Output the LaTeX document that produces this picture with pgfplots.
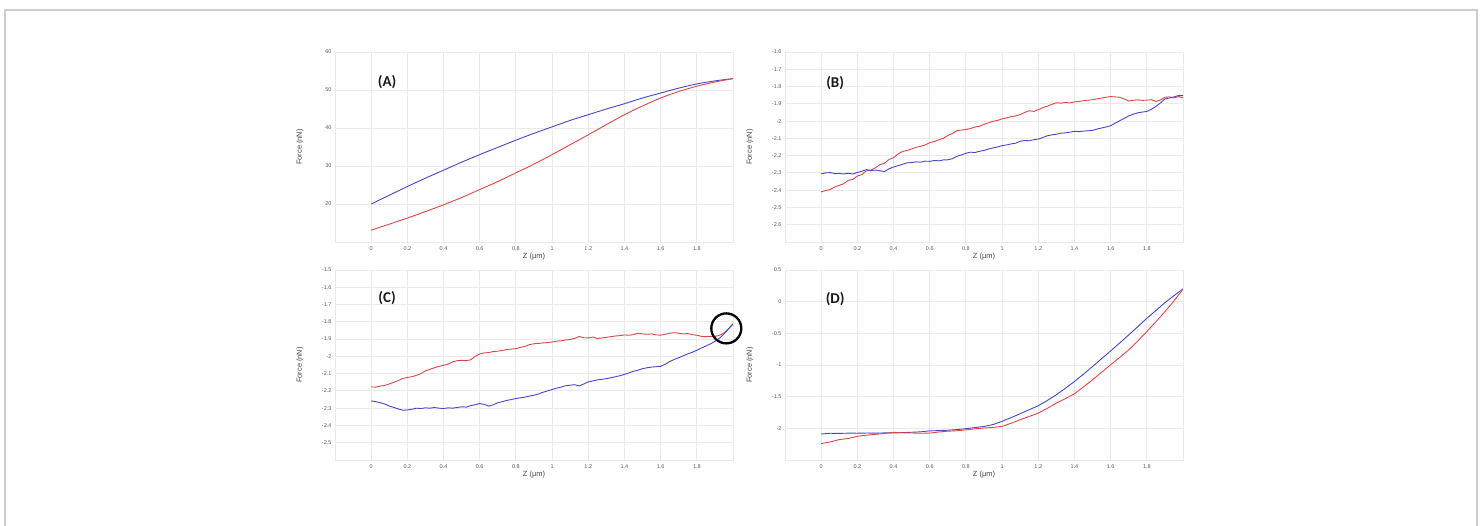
\documentclass[border=0pt]{standalone}
\usepackage{pgfplots}
\pgfplotsset{compat=1.18}
\usepackage{fontspec}
\setmainfont{Liberation Sans}
\newfontfamily\calib{Carlito}
\definecolor{gridc}{RGB}{234,234,234}
\definecolor{tickc}{RGB}{90,90,90}
\definecolor{labc}{RGB}{70,70,70}
\definecolor{cblue}{RGB}{70,70,205}
\definecolor{cred}{RGB}{220,70,70}
\definecolor{framec}{RGB}{204,204,204}
\tikzset{plabel/.style={font=\calib\bfseries\fontsize{15}{16}\selectfont, text=black!90}}
\pgfplotsset{
  panel/.style={
    scale only axis, width=398pt, height=190pt, anchor=south west,
    xmin=-0.2, xmax=2.0,
    xtick={-0.2,0,0.2,0.4,0.6,0.8,1,1.2,1.4,1.6,1.8,2},
    xticklabels={,0,0.2,0.4,0.6,0.8,1,1.2,1.4,1.6,1.8,},
    grid=major, major grid style={gridc, line width=0.9pt},
    axis line style={gridc, line width=0.9pt},
    major tick length=0pt,
    tick label style={font=\fontsize{5.5}{6}\selectfont, text=tickc},
    xticklabel style={yshift=-1pt},
    xlabel={Z (µm)}, ylabel={Force (nN)},
    every axis x label/.style={at={(axis description cs:0.5,-0.079)}, anchor=center, font=\fontsize{7.5}{8}\selectfont, text=labc},
    every axis y label/.style={at={(axis description cs:-0.088,0.5)}, anchor=center, rotate=90, font=\fontsize{7.5}{8}\selectfont, text=labc},
    every axis plot/.append style={line width=0.9pt},
  },
}
\begin{document}
\begin{tikzpicture}[x=1pt,y=1pt]
\useasboundingbox (0,0) rectangle (1483,525);
\draw[framec, line width=2pt] (5,-20) rectangle (1477,515);

% ---------------- (A)
\begin{axis}[panel, at={(335pt,283pt)}, ymin=10, ymax=60,
  ytick={10,20,30,40,50,60}, yticklabels={,20,30,40,50,60}]
\addplot[cblue, smooth] coordinates {
(0,20.0)(0.1,22.3)(0.2,24.6)(0.3,26.8)(0.4,28.9)(0.5,31.0)(0.6,33.0)(0.7,34.9)(0.8,36.8)(0.9,38.6)(1.0,40.3)(1.1,42.0)(1.2,43.5)(1.3,45.0)(1.4,46.4)(1.5,47.9)(1.6,49.2)(1.7,50.5)(1.8,51.6)(1.9,52.4)(2.0,53.0)};
\addplot[cred, smooth] coordinates {
(0,13.1)(0.1,14.7)(0.2,16.3)(0.3,18.0)(0.4,19.8)(0.5,21.7)(0.6,23.8)(0.7,25.9)(0.8,28.2)(0.9,30.5)(1.0,33.0)(1.1,35.6)(1.2,38.2)(1.3,40.9)(1.4,43.5)(1.5,45.8)(1.6,47.9)(1.7,49.6)(1.8,51.0)(1.9,52.1)(2.0,53.0)};
\node[plabel] at (rel axis cs:0.131,0.842) {(A)};
\end{axis}

% ---------------- (B)
\begin{axis}[panel, at={(785pt,283pt)}, ymin=-2.7, ymax=-1.6,
  ytick={-2.7,-2.6,-2.5,-2.4,-2.3,-2.2,-2.1,-2,-1.9,-1.8,-1.7,-1.6},
  yticklabels={,-2.6,-2.5,-2.4,-2.3,-2.2,-2.1,-2,-1.9,-1.8,-1.7,-1.6}]
\addplot[cred] coordinates {
(0,-2.410)(0.025,-2.402)(0.05,-2.396)(0.075,-2.381)(0.1,-2.372)(0.125,-2.362)(0.15,-2.343)(0.175,-2.338)(0.2,-2.318)(0.225,-2.309)
(0.25,-2.288)(0.275,-2.284)(0.3,-2.270)(0.325,-2.252)(0.35,-2.244)(0.375,-2.222)(0.4,-2.212)(0.425,-2.190)(0.45,-2.176)(0.475,-2.170)
(0.5,-2.161)(0.525,-2.152)(0.55,-2.146)(0.575,-2.138)(0.6,-2.125)(0.625,-2.118)(0.65,-2.108)(0.675,-2.100)(0.7,-2.083)(0.725,-2.072)
(0.75,-2.056)(0.775,-2.052)(0.8,-2.049)(0.825,-2.043)(0.85,-2.034)(0.875,-2.030)(0.9,-2.019)(0.925,-2.010)(0.95,-2.001)(0.975,-1.996)
(1.0,-1.987)(1.025,-1.982)(1.05,-1.974)(1.075,-1.970)(1.1,-1.962)(1.125,-1.950)(1.15,-1.940)(1.175,-1.944)(1.2,-1.934)(1.225,-1.922)
(1.25,-1.914)(1.275,-1.903)(1.3,-1.894)(1.325,-1.896)(1.35,-1.892)(1.375,-1.895)(1.4,-1.889)(1.425,-1.886)(1.45,-1.882)(1.475,-1.879)
(1.5,-1.876)(1.525,-1.871)(1.55,-1.867)(1.575,-1.862)(1.6,-1.858)(1.625,-1.860)(1.65,-1.862)(1.675,-1.872)(1.7,-1.884)(1.725,-1.880)
(1.75,-1.877)(1.775,-1.880)(1.8,-1.879)(1.825,-1.876)(1.85,-1.886)(1.875,-1.878)(1.9,-1.862)(1.925,-1.860)(1.95,-1.866)(1.975,-1.858)(2.0,-1.866)};
\addplot[cblue] coordinates {
(0,-2.305)(0.025,-2.300)(0.05,-2.298)(0.075,-2.304)(0.1,-2.303)(0.125,-2.306)(0.15,-2.302)(0.175,-2.306)(0.2,-2.298)(0.225,-2.290)
(0.25,-2.281)(0.275,-2.286)(0.3,-2.284)(0.325,-2.288)(0.35,-2.292)(0.375,-2.276)(0.4,-2.266)(0.425,-2.258)(0.45,-2.250)(0.475,-2.242)
(0.5,-2.240)(0.525,-2.236)(0.55,-2.238)(0.575,-2.232)(0.6,-2.233)(0.625,-2.228)(0.65,-2.230)(0.675,-2.225)(0.7,-2.224)(0.725,-2.218)
(0.75,-2.204)(0.775,-2.196)(0.8,-2.186)(0.825,-2.180)(0.85,-2.182)(0.875,-2.175)(0.9,-2.170)(0.925,-2.162)(0.95,-2.155)(0.975,-2.150)
(1.0,-2.142)(1.025,-2.138)(1.05,-2.132)(1.075,-2.128)(1.1,-2.117)(1.125,-2.112)(1.15,-2.114)(1.175,-2.108)(1.2,-2.104)(1.225,-2.095)
(1.25,-2.085)(1.275,-2.080)(1.3,-2.076)(1.325,-2.070)(1.35,-2.068)(1.375,-2.064)(1.4,-2.059)(1.425,-2.061)(1.45,-2.058)(1.475,-2.056)
(1.5,-2.054)(1.525,-2.046)(1.55,-2.040)(1.575,-2.034)(1.6,-2.027)(1.625,-2.012)(1.65,-1.998)(1.675,-1.985)(1.7,-1.970)(1.725,-1.960)
(1.75,-1.952)(1.775,-1.948)(1.8,-1.944)(1.825,-1.932)(1.85,-1.915)(1.875,-1.895)(1.9,-1.872)(1.925,-1.866)(1.95,-1.860)(1.975,-1.852)(2.0,-1.853)};
\node[plabel] at (rel axis cs:0.126,0.837) {(B)};
\end{axis}

% ---------------- (C)
\begin{axis}[panel, at={(335pt,65pt)}, ymin=-2.6, ymax=-1.5, clip=false,
  ytick={-2.6,-2.5,-2.4,-2.3,-2.2,-2.1,-2,-1.9,-1.8,-1.7,-1.6,-1.5},
  yticklabels={,-2.5,-2.4,-2.3,-2.2,-2.1,-2,-1.9,-1.8,-1.7,-1.6,-1.5}]
\addplot[cred] coordinates {
(0,-2.177)(0.025,-2.178)(0.05,-2.172)(0.075,-2.168)(0.1,-2.160)(0.125,-2.150)(0.15,-2.140)(0.175,-2.128)(0.2,-2.122)(0.225,-2.118)
(0.25,-2.110)(0.275,-2.100)(0.3,-2.084)(0.325,-2.075)(0.35,-2.066)(0.375,-2.058)(0.4,-2.052)(0.425,-2.045)(0.45,-2.032)(0.475,-2.025)
(0.5,-2.023)(0.525,-2.025)(0.55,-2.020)(0.575,-2.000)(0.6,-1.986)(0.625,-1.980)(0.65,-1.978)(0.675,-1.972)(0.7,-1.970)(0.725,-1.966)
(0.75,-1.960)(0.775,-1.958)(0.8,-1.955)(0.825,-1.948)(0.85,-1.942)(0.875,-1.932)(0.9,-1.927)(0.925,-1.925)(0.95,-1.922)(0.975,-1.920)
(1.0,-1.917)(1.025,-1.912)(1.05,-1.910)(1.075,-1.905)(1.1,-1.902)(1.125,-1.896)(1.15,-1.885)(1.175,-1.892)(1.2,-1.893)(1.225,-1.888)
(1.25,-1.897)(1.275,-1.893)(1.3,-1.890)(1.325,-1.886)(1.35,-1.882)(1.375,-1.880)(1.4,-1.876)(1.425,-1.878)(1.45,-1.874)(1.475,-1.866)
(1.5,-1.870)(1.525,-1.872)(1.55,-1.870)(1.575,-1.876)(1.6,-1.877)(1.625,-1.872)(1.65,-1.866)(1.675,-1.863)(1.7,-1.866)(1.725,-1.870)
(1.75,-1.868)(1.775,-1.874)(1.8,-1.878)(1.825,-1.884)(1.85,-1.886)(1.875,-1.884)(1.9,-1.885)(1.925,-1.878)(1.95,-1.864)(1.975,-1.840)(2.0,-1.812)};
\addplot[cblue] coordinates {
(0,-2.258)(0.025,-2.262)(0.05,-2.268)(0.075,-2.276)(0.1,-2.288)(0.125,-2.296)(0.15,-2.304)(0.175,-2.312)(0.2,-2.310)(0.225,-2.306)
(0.25,-2.300)(0.275,-2.302)(0.3,-2.298)(0.325,-2.300)(0.35,-2.296)(0.375,-2.300)(0.4,-2.302)(0.425,-2.298)(0.45,-2.300)(0.475,-2.296)
(0.5,-2.292)(0.525,-2.294)(0.55,-2.285)(0.575,-2.280)(0.6,-2.273)(0.625,-2.278)(0.65,-2.288)(0.675,-2.280)(0.7,-2.269)(0.725,-2.262)
(0.75,-2.255)(0.775,-2.250)(0.8,-2.244)(0.825,-2.240)(0.85,-2.236)(0.875,-2.230)(0.9,-2.225)(0.925,-2.218)(0.95,-2.208)(0.975,-2.200)
(1.0,-2.192)(1.025,-2.184)(1.05,-2.178)(1.075,-2.170)(1.1,-2.167)(1.125,-2.164)(1.15,-2.171)(1.175,-2.160)(1.2,-2.148)(1.225,-2.142)
(1.25,-2.136)(1.275,-2.133)(1.3,-2.129)(1.325,-2.124)(1.35,-2.118)(1.375,-2.112)(1.4,-2.104)(1.425,-2.096)(1.45,-2.086)(1.475,-2.080)
(1.5,-2.071)(1.525,-2.066)(1.55,-2.062)(1.575,-2.060)(1.6,-2.058)(1.625,-2.046)(1.65,-2.030)(1.675,-2.018)(1.7,-2.008)(1.725,-1.996)
(1.75,-1.986)(1.775,-1.976)(1.8,-1.965)(1.825,-1.952)(1.85,-1.940)(1.875,-1.928)(1.9,-1.913)(1.925,-1.895)(1.95,-1.870)(1.975,-1.842)(2.0,-1.812)};
\node[plabel] at (rel axis cs:0.131,0.853) {(C)};
\draw[black, line width=2.3pt] (axis cs:1.963,-1.838) circle[radius=15pt];
\end{axis}

% ---------------- (D)
\begin{axis}[panel, at={(785pt,65pt)}, ymin=-2.5, ymax=0.5,
  ytick={-2.5,-2,-1.5,-1,-0.5,0,0.5},
  yticklabels={,-2,-1.5,-1,-0.5,0,0.5}]
\addplot[cblue] coordinates {
(0,-2.090)(0.05,-2.078)(0.1,-2.080)(0.15,-2.076)(0.2,-2.077)(0.25,-2.074)(0.3,-2.076)(0.35,-2.072)(0.4,-2.073)(0.45,-2.068)
(0.5,-2.062)(0.55,-2.055)(0.6,-2.040)(0.65,-2.036)(0.7,-2.030)(0.75,-2.020)(0.8,-2.005)(0.85,-1.988)(0.9,-1.970)(0.95,-1.940)
(1.0,-1.890)(1.05,-1.830)(1.1,-1.769)(1.15,-1.705)(1.2,-1.643)(1.25,-1.560)(1.3,-1.470)(1.35,-1.368)(1.4,-1.260)(1.45,-1.145)
(1.5,-1.024)(1.55,-0.900)(1.6,-0.777)(1.65,-0.652)(1.7,-0.525)(1.75,-0.395)(1.8,-0.262)(1.85,-0.140)(1.9,-0.016)(1.95,0.095)(2.0,0.200)};
\addplot[cred] coordinates {
(0,-2.241)(0.05,-2.215)(0.1,-2.178)(0.15,-2.160)(0.2,-2.126)(0.25,-2.108)(0.3,-2.095)(0.35,-2.082)(0.4,-2.063)(0.45,-2.070)
(0.5,-2.073)(0.55,-2.078)(0.6,-2.075)(0.65,-2.058)(0.7,-2.045)(0.75,-2.038)(0.8,-2.025)(0.85,-2.008)(0.9,-1.995)(0.95,-1.985)
(1.0,-1.969)(1.05,-1.920)(1.1,-1.864)(1.15,-1.812)(1.2,-1.759)(1.25,-1.685)(1.3,-1.601)(1.35,-1.530)(1.4,-1.454)(1.45,-1.345)
(1.5,-1.234)(1.55,-1.115)(1.6,-0.997)(1.65,-0.880)(1.7,-0.761)(1.75,-0.620)(1.8,-0.472)(1.85,-0.318)(1.9,-0.157)(1.95,0.010)(2.0,0.200)};
\node[plabel] at (rel axis cs:0.126,0.847) {(D)};
\end{axis}
\end{tikzpicture}
\end{document}
